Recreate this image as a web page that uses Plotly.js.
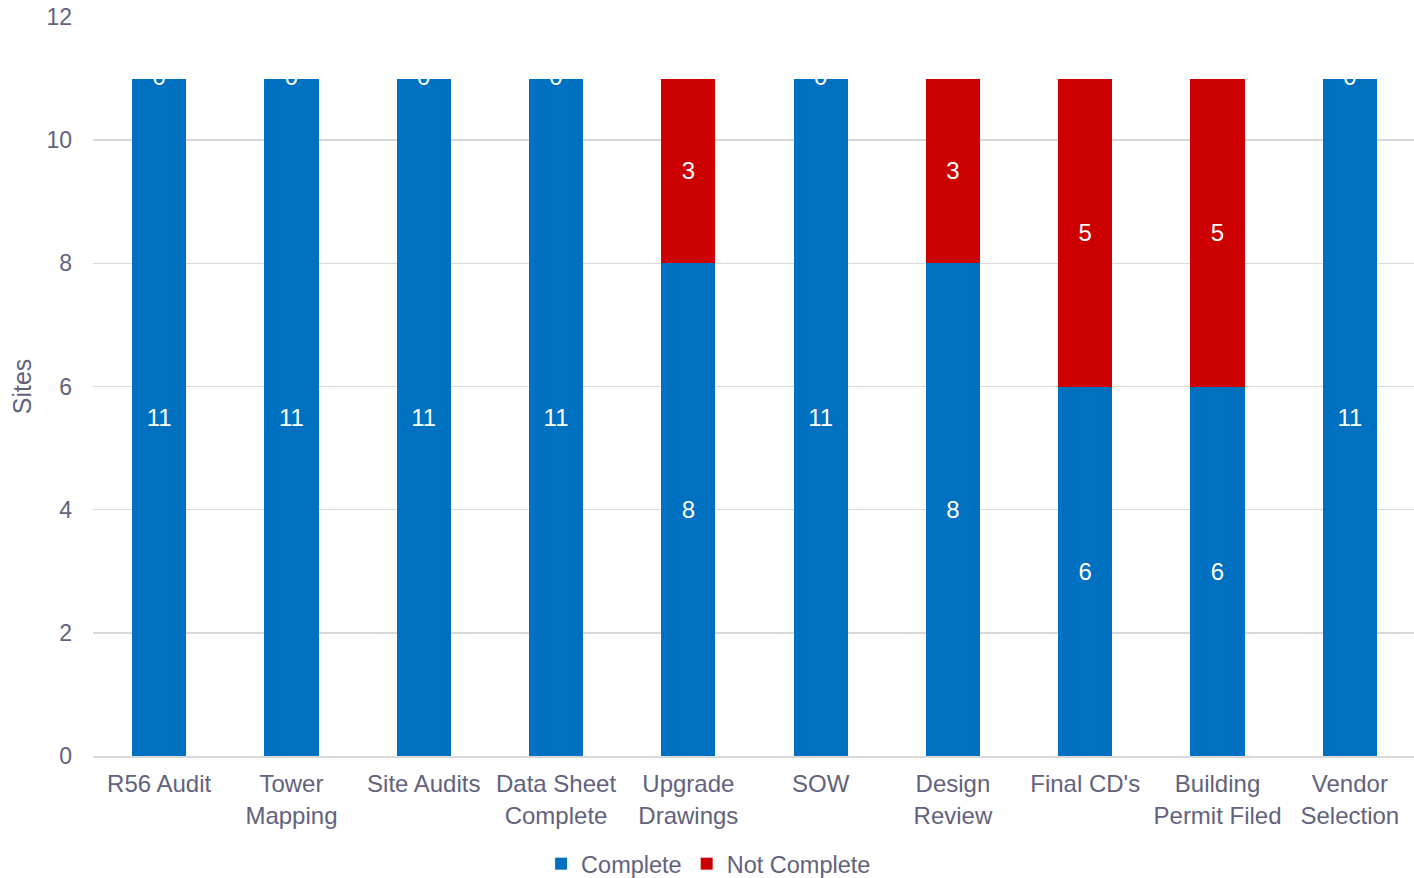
<!DOCTYPE html>
<html>
<head>
<meta charset="utf-8">
<script src="https://cdn.plot.ly/plotly-3.0.1.min.js"></script>
<style>html,body{margin:0;padding:0;background:#fff;}#chart{width:1414px;height:878px;}</style>
</head>
<body>
<div id="chart"></div>
<script>
const categories = ["R56 Audit", "Tower<br>Mapping", "Site Audits", "Data Sheet<br>Complete", "Upgrade<br>Drawings", "SOW", "Design<br>Review", "Final CD's", "Building<br>Permit Filed", "Vendor<br>Selection"];
const complete = [11, 11, 11, 11, 8, 11, 8, 6, 6, 11];
const notComplete = [0, 0, 0, 0, 3, 0, 3, 5, 5, 0];
const yTicks = [0, 2, 4, 6, 8, 10, 12];

const FONT = '"Liberation Sans", Arial, sans-serif';
const TXT = '#62627c';
const BLUE = '#0070C0';
const RED = '#CC0000';

const zeroIdx = notComplete.map((v, i) => v === 0 ? i : -1).filter(i => i >= 0);

const traces = [
  {
    type: 'bar', name: 'Complete', x: categories, y: complete,
    marker: {color: BLUE},
    text: complete.map(String), textposition: 'inside', insidetextanchor: 'middle',
    textfont: {color: '#ffffff', size: 24, family: FONT},
    hoverinfo: 'skip'
  },
  {
    type: 'bar', name: 'Not Complete', x: categories, y: notComplete,
    marker: {color: RED},
    text: notComplete.map(v => v === 0 ? '' : String(v)), textposition: 'inside', insidetextanchor: 'middle',
    textfont: {color: '#ffffff', size: 24, family: FONT},
    hoverinfo: 'skip'
  },
  {
    type: 'scatter', mode: 'text', showlegend: false,
    x: zeroIdx.map(i => categories[i]),
    y: zeroIdx.map(i => complete[i] + notComplete[i]),
    text: zeroIdx.map(i => String(notComplete[i])),
    textposition: 'middle center',
    textfont: {color: '#ffffff', size: 24, family: FONT},
    hoverinfo: 'skip'
  }
];

const layout = {
  width: 1414, height: 878,
  margin: {l: 93, r: 0, t: 17, b: 122, autoexpand: false},
  paper_bgcolor: '#ffffff', plot_bgcolor: '#ffffff',
  barmode: 'stack', bargap: 0.59,
  font: {family: FONT, color: TXT, size: 23},
  showlegend: true,
  legend: {orientation: 'h', x: 0.466, xanchor: 'center', y: -0.146, yanchor: 'middle',
           font: {size: 23.5, color: TXT, family: FONT}, itemwidth: 20, tracegroupgap: 0,
           traceorder: 'normal'},
  xaxis: {
    type: 'category', showgrid: false, zeroline: false, automargin: false,
    range: [-0.5, 9.485],
    showline: true, linecolor: '#d9d9d9', linewidth: 1.5,
    ticks: '', tickfont: {size: 24, color: TXT, family: FONT},
    ticklabelstandoff: 6, fixedrange: true
  },
  yaxis: {
    range: [0, 12], tickvals: yTicks, ticktext: yTicks.map(String), automargin: false,
    showgrid: true, gridcolor: '#d9d9d9', gridwidth: 1.5,
    zeroline: false, showline: false, ticks: '',
    tickfont: {size: 23, color: TXT, family: FONT},
    ticklabelstandoff: 20,
    title: {text: 'Sites', font: {size: 25, color: TXT, family: FONT}, standoff: 7},
    fixedrange: true
  }
};

Plotly.newPlot('chart', traces, layout, {displayModeBar: false, staticPlot: true});
</script>
</body>
</html>
